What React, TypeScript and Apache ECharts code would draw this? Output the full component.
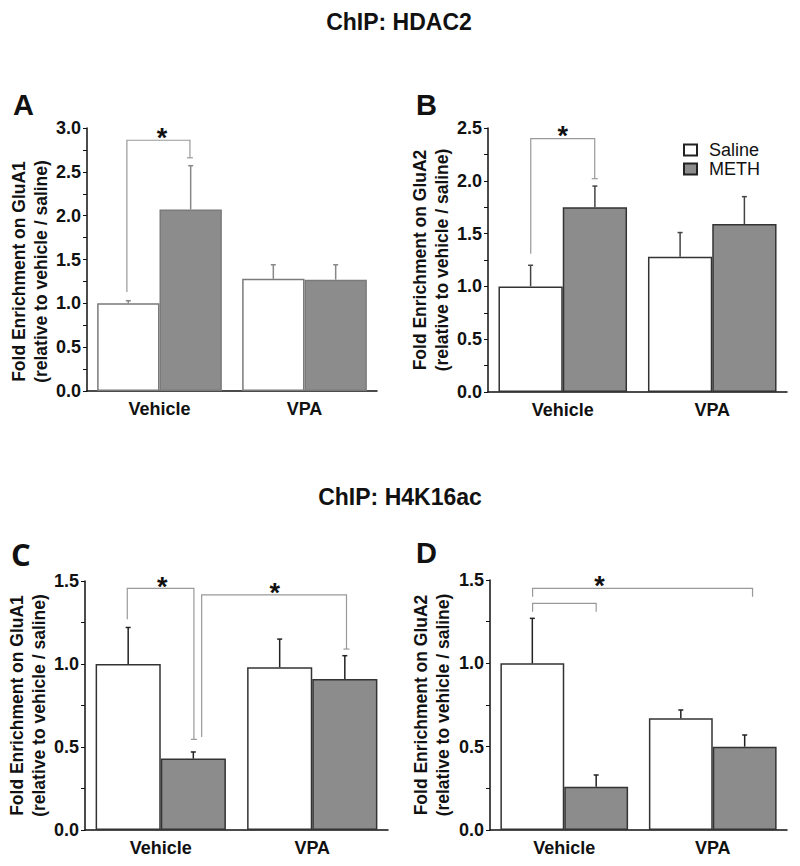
import React, { useEffect, useRef } from 'react';
import * as echarts from 'echarts';

const categories = ['Vehicle', 'VPA'];

// Panel A – HDAC2 on GluA1
const salineA = [1.0, 1.28];
const methA = [2.07, 1.27];
const salineErrA = [1.03, 1.44];
const methErrA = [2.57, 1.44];

// Panel B – HDAC2 on GluA2
const salineB = [1.0, 1.28];
const methB = [1.75, 1.59];
const salineErrB = [1.2, 1.51];
const methErrB = [1.95, 1.85];

// Panel C – H4K16ac on GluA1
const salineC = [1.0, 0.98];
const methC = [0.43, 0.91];
const salineErrC = [1.22, 1.15];
const methErrC = [0.47, 1.05];

// Panel D – H4K16ac on GluA2
const salineD = [1.0, 0.67];
const methD = [0.26, 0.5];
const salineErrD = [1.27, 0.72];
const methErrD = [0.33, 0.57];

// y-axis maxima
const yMax = [3.0, 2.5, 1.5, 1.5];

// significance brackets: [leftCat, leftOffset, leftEnd, rightCat, rightOffset, rightEnd, top, capRight]
const bracketsA = [[0, -0.225, 1.13, 0, 0.21, 2.66, 2.86, 1]];
const bracketsB = [[0, -0.214, 1.31, 0, 0.214, 2.02, 2.4, 1]];
const bracketsC = [
  [0, -0.221, 1.27, 0, 0.219, 0.546, 1.456, 1],
  [0, 0.27, 0.56, 1, 0.226, 1.09, 1.416, 1],
];
const bracketsD = [
  [0, -0.213, 1.4, 1, 0.268, 1.4, 1.45, 0],
  [0, -0.213, 1.31, 0, 0.215, 1.31, 1.36, 0],
];
// stars: [cat, offset, value]
const starsA = [[0, 0.017, 2.96]];
const starsB = [[0, 0.0, 2.48]];
const starsC = [[0, 0.01, 1.5], [0, 0.753, 1.464]];
const starsD = [[0, 0.238, 1.5]];

const FONT = '"Liberation Sans", Arial, Helvetica, sans-serif';

export default function App() {
  const ref = useRef<HTMLDivElement>(null);

  useEffect(() => {
    if (!ref.current) return;
    const chart = echarts.init(ref.current, undefined, { renderer: 'svg' });

    const grids = [
      { left: 87, top: 128, width: 290, height: 263 },
      { left: 488, top: 128, width: 299, height: 264 },
      { left: 85, top: 581, width: 303, height: 249 },
      { left: 490, top: 580, width: 297, height: 250 },
    ];
    const yNames = [
      'Fold Enrichment on GluA1\n(relative to vehicle / saline)',
      'Fold Enrichment on GluA2\n(relative to vehicle / saline)',
      'Fold Enrichment on GluA1\n(relative to vehicle / saline)',
      'Fold Enrichment on GluA2\n(relative to vehicle / saline)',
    ];
    const nameGaps = [34, 34, 33, 36];
    const namePad = [[0, 24, 0, 0], [0, 0, 0, 0], [0, 0, 0, 0], [0, 0, 0, 0]];
    const barBorder = ['#7a7a7a', '#333', '#333', '#333'];
    const errColor = ['#888', '#444', '#222', '#222'];
    const bracketColor = '#999';

    const xAxes = grids.map((_, g) => ({
      type: 'category',
      gridIndex: g,
      data: categories,
      axisLine: { lineStyle: { color: '#111', width: 1.5 } },
      axisTick: { alignWithLabel: true, length: 4, lineStyle: { color: '#111' } },
      axisLabel: { fontWeight: 'bold', fontSize: 18, color: '#111', margin: 9, fontFamily: FONT },
    }));

    const yAxes = grids.map((_, g) => ({
      type: 'value',
      gridIndex: g,
      min: 0,
      max: yMax[g],
      interval: 0.5,
      splitLine: { show: false },
      axisLine: { show: true, lineStyle: { color: '#111', width: 1.5 } },
      axisTick: { show: true, length: 4, lineStyle: { color: '#111' } },
      minorTick: { show: true, splitNumber: 2, length: 4, lineStyle: { color: '#111' } },
      axisLabel: {
        fontWeight: 'bold',
        fontSize: 18,
        color: '#111',
        margin: 6,
        fontFamily: FONT,
        formatter: (v: number) => v.toFixed(1),
      },
      name: yNames[g],
      nameLocation: 'middle',
      nameRotate: 90,
      nameGap: nameGaps[g],
      nameTextStyle: {
        fontWeight: 'bold',
        fontSize: 17.5,
        lineHeight: 22,
        color: '#111',
        fontFamily: FONT,
        padding: namePad[g],
      },
    }));

    const barSeries = (name: string, data: number[], g: number, fill: string) => ({
      type: 'bar',
      name,
      xAxisIndex: g,
      yAxisIndex: g,
      data,
      barWidth: '43%',
      barGap: '0%',
      silent: true,
      z: 2,
      itemStyle: { color: fill, borderColor: barBorder[g], borderWidth: 1.5 },
    });

    const errSeries = (means: number[], errs: number[], g: number, off: number) => ({
      type: 'custom',
      xAxisIndex: g,
      yAxisIndex: g,
      silent: true,
      z: 3,
      data: means.map((m, i) => [i, m, errs[i]]),
      renderItem: (_p: any, api: any) => {
        const band = api.size([1, 0])[0];
        const base = api.coord([api.value(0), api.value(1)]);
        const top = api.coord([api.value(0), api.value(2)]);
        const x = base[0] + off * band;
        const st = { stroke: errColor[g], lineWidth: 1.5 };
        return {
          type: 'group',
          children: [
            { type: 'line', shape: { x1: x, y1: base[1], x2: x, y2: top[1] }, style: st },
            { type: 'line', shape: { x1: x - 2.5, y1: top[1], x2: x + 2.5, y2: top[1] }, style: st },
          ],
        };
      },
    });

    const bracketSeries = (brackets: number[][], g: number) => ({
      type: 'custom',
      xAxisIndex: g,
      yAxisIndex: g,
      silent: true,
      z: 4,
      data: brackets,
      renderItem: (_p: any, api: any) => {
        const band = api.size([1, 0])[0];
        const l = api.coord([api.value(0), api.value(2)]);
        const r = api.coord([api.value(3), api.value(5)]);
        const t = api.coord([api.value(0), api.value(6)]);
        const xl = l[0] + api.value(1) * band;
        const xr = r[0] + api.value(4) * band;
        const st = { stroke: bracketColor, lineWidth: 1.2, fill: 'none' };
        const children: any[] = [
          {
            type: 'polyline',
            shape: { points: [[xl, l[1]], [xl, t[1]], [xr, t[1]], [xr, r[1]]] },
            style: st,
          },
        ];
        if (api.value(7)) {
          children.push({ type: 'line', shape: { x1: xr - 3, y1: r[1], x2: xr + 3, y2: r[1] }, style: st });
        }
        return { type: 'group', children };
      },
    });

    const starSeries = (stars: number[][], g: number) => ({
      type: 'custom',
      xAxisIndex: g,
      yAxisIndex: g,
      silent: true,
      z: 5,
      data: stars,
      renderItem: (_p: any, api: any) => {
        const band = api.size([1, 0])[0];
        const c = api.coord([api.value(0), api.value(2)]);
        return {
          type: 'text',
          x: c[0] + api.value(1) * band,
          y: c[1] + 6,
          style: {
            text: '*',
            fontSize: 27,
            fontWeight: 'bold',
            fontFamily: FONT,
            fill: '#111',
            align: 'center',
            verticalAlign: 'middle',
          },
        };
      },
    });

    const panels = [
      { s: salineA, m: methA, se: salineErrA, me: methErrA, b: bracketsA, st: starsA },
      { s: salineB, m: methB, se: salineErrB, me: methErrB, b: bracketsB, st: starsB },
      { s: salineC, m: methC, se: salineErrC, me: methErrC, b: bracketsC, st: starsC },
      { s: salineD, m: methD, se: salineErrD, me: methErrD, b: bracketsD, st: starsD },
    ];

    const series: any[] = [];
    panels.forEach((p, g) => {
      series.push(barSeries('Saline', p.s, g, '#ffffff'));
      series.push(barSeries('METH', p.m, g, '#8c8c8c'));
    });
    panels.forEach((p, g) => {
      series.push(errSeries(p.s, p.se, g, -0.215));
      series.push(errSeries(p.m, p.me, g, 0.215));
      series.push(bracketSeries(p.b, g));
      series.push(starSeries(p.st, g));
    });

    const text = (t: string, x: number, y: number, size: number, family = FONT, align = 'left') => ({
      type: 'text',
      x,
      y,
      style: {
        text: t,
        fontSize: size,
        fontWeight: 'bold',
        fontFamily: family,
        fill: '#111',
        align,
        verticalAlign: 'middle',
      },
    });

    chart.setOption({
      animation: false,
      backgroundColor: '#ffffff',
      textStyle: { fontFamily: FONT },
      grid: grids,
      xAxis: xAxes,
      yAxis: yAxes,
      legend: {
        data: ['Saline', 'METH'],
        orient: 'vertical',
        left: 678,
        top: 136,
        itemWidth: 13,
        itemHeight: 11,
        itemGap: 1,
        selectedMode: false,
        icon: 'rect',
        itemStyle: { borderColor: '#222', borderWidth: 2 },
        textStyle: { fontSize: 18, color: '#111', fontFamily: FONT, padding: [0, 0, 0, 7] },
      },
      graphic: [
        text('ChIP: HDAC2', 399, 22, 23, FONT, 'center'),
        text('ChIP: H4K16ac', 400, 497, 23, FONT, 'center'),
        text('A', 13, 105, 29),
        text('B', 416, 105, 29),
        text('C', 11, 554, 31, '"Open Sans", "Liberation Sans", sans-serif'),
        text('D', 416, 553, 29),
      ],
      series,
    });

    return () => chart.dispose();
  }, []);

  return (
    <div
      ref={ref}
      style={{ position: 'absolute', left: 0, top: 0, width: 800, height: 866, background: '#fff' }}
    />
  );
}
